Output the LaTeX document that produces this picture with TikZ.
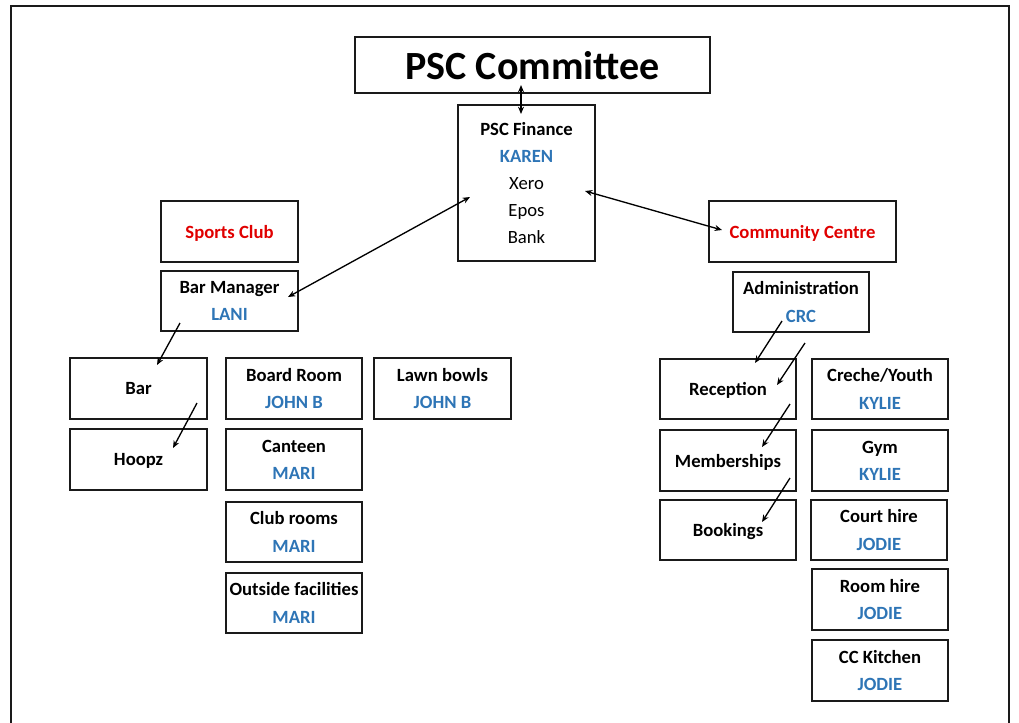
\documentclass[tikz,border=0pt]{standalone}
\usepackage{fontspec}
\setmainfont{Carlito}
\usetikzlibrary{arrows.meta}
\definecolor{tred}{HTML}{E00000}
\definecolor{tblue}{HTML}{2E75B6}
\definecolor{linec}{HTML}{1A1A1A}
\tikzset{
  box/.style={draw=linec, line width=1.4pt, inner sep=0pt, align=center,
    font=\fontsize{14}{20.4}\selectfont\bfseries},
  sz/.style 2 args={minimum width=#1*0.75pt, minimum height=#2*0.75pt},
  conn/.style={line width=1pt, -{Stealth[length=5.5pt,width=4.5pt]}},
  dconn/.style={line width=1pt, {Stealth[length=5.5pt,width=4.5pt]}-{Stealth[length=5.5pt,width=4.5pt]}},
}
\newcommand{\rd}[1]{\textcolor{tred}{#1}}
\newcommand{\bl}[1]{\textcolor{tblue}{#1}}
\begin{document}
\begin{tikzpicture}[x=0.75pt,y=-0.75pt]
\useasboundingbox (0,0) rectangle (1019,722);
\draw[linec, line width=1.5pt] (11,740) -- (11,6) -- (1009,6) -- (1009,740);

\node[box, sz={355}{56}, text depth=0pt, font=\fontsize{30}{32}\selectfont\bfseries] (comm) at (532.5,65) {PSC Committee};
\node[box, sz={137}{156}] (fin) at (526.5,183)
  {PSC Finance\\ \bl{KAREN}\\ \mdseries Xero\\ \mdseries Epos\\ \mdseries Bank};
\node[box, sz={137}{61}, text depth=0pt] (sports) at (229.5,231.5) {\rd{Sports Club}};
\node[box, sz={137}{60}] (barmgr) at (229.5,301) {Bar Manager\\ \bl{LANI}};
\node[box, sz={187}{61}, text depth=0pt] (cc) at (802.5,231.5) {\rd{Community Centre}};
\node[box, sz={136}{60}] (admin) at (801,302) {Administration\\ \bl{CRC}};

\node[box, sz={137}{61}, text depth=0pt] (bar) at (138.5,388.5) {Bar};
\node[box, sz={137}{61}, text depth=0pt] (hoopz) at (138.5,459.5) {Hoopz};
\node[box, sz={136}{61}] (board) at (294,388.5) {Board Room\\ \bl{JOHN B}};
\node[box, sz={137}{61}] (lawn) at (442.5,388.5) {Lawn bowls\\ \bl{JOHN B}};
\node[box, sz={136}{61}] (canteen) at (294,459.5) {Canteen\\ \bl{MARI}};
\node[box, sz={136}{60}] (club) at (294,532) {Club rooms\\ \bl{MARI}};
\node[box, sz={136}{60}] (outside) at (294,603) {Outside facilities\\ \bl{MARI}};

\node[box, sz={136}{60}, text depth=0pt] (recep) at (728,389) {Reception};
\node[box, sz={136}{61}, text depth=0pt] (memb) at (728,460.5) {Memberships};
\node[box, sz={136}{60}, text depth=0pt] (book) at (728,530) {Bookings};
\node[box, sz={136}{60}] (creche) at (880,389) {Creche/Youth\\ \bl{KYLIE}};
\node[box, sz={136}{61}] (gym) at (880,460.5) {Gym\\ \bl{KYLIE}};
\node[box, sz={136}{60}] (court) at (879,530) {Court hire\\ \bl{JODIE}};
\node[box, sz={136}{61}] (room) at (880,599.5) {Room hire\\ \bl{JODIE}};
\node[box, sz={136}{61}] (kitchen) at (880,670.5) {CC Kitchen\\ \bl{JODIE}};

\draw[dconn] ([shift={(-11.5,20)}]comm.center) -- ([shift={(-5.5,-69)}]fin.center);
\draw[dconn] ([shift={(-56.5,14)}]fin.center) -- ([shift={(58.5,-4)}]barmgr.center);
\draw[dconn] ([shift={(58.5,8)}]fin.center) -- ([shift={(-80.5,-1.5)}]cc.center);
\draw[conn] ([shift={(-49.5,22)}]barmgr.center) -- ([shift={(18.5,-23.5)}]bar.center);
\draw[conn] ([shift={(58.5,14.5)}]bar.center) -- ([shift={(34.5,-11.5)}]hoopz.center);
\draw[conn] ([shift={(-19,19)}]admin.center) -- ([shift={(27,-26)}]recep.center);
\draw[conn] ([shift={(4,41)}]admin.center) -- ([shift={(49,-4)}]recep.center);
\draw[conn] ([shift={(62,15)}]recep.center) -- ([shift={(34,-13.5)}]memb.center);
\draw[conn] ([shift={(62,17.5)}]memb.center) -- ([shift={(34,-8)}]book.center);
\end{tikzpicture}
\end{document}
